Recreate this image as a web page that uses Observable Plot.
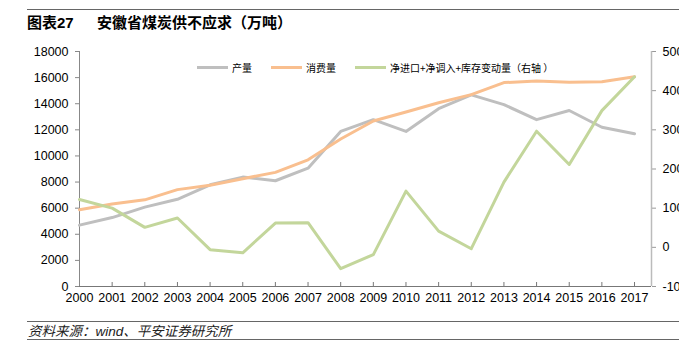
<!DOCTYPE html>
<html>
<head>
<meta charset="utf-8">
<script src="https://cdn.jsdelivr.net/npm/d3@7"></script>
<script src="https://cdn.jsdelivr.net/npm/@observablehq/plot@0.6"></script>
<style>
html, body { margin: 0; padding: 0; background: #fff; overflow: hidden; }
#wrap { position: relative; width: 679px; height: 358px; font-family: "Liberation Sans", Arial, "Noto Sans CJK SC", sans-serif; color: #000; }
.rule { position: absolute; left: 27px; right: 0; height: 0; border-top: 1.5px solid #666; }
#title { position: absolute; left: 27px; top: 15px; font-size: 15px; font-weight: bold; font-family: "Liberation Sans", "Noto Sans CJK SC", sans-serif; line-height: 16px; white-space: nowrap; }
#title .num { display: inline-block; width: 70px; }
#chart { position: absolute; left: 0; top: 0; }
#legend { position: absolute; left: 197px; top: 59px; font-size: 10px; font-family: "Noto Sans CJK SC", sans-serif; line-height: 12px; white-space: nowrap; }
#legend .item { display: inline-flex; align-items: center; margin-right: 19px; }
#legend .sw { display: inline-block; width: 31px; height: 3px; margin-right: 4px; }
#source { position: absolute; left: 28px; top: 324px; font-size: 13.5px; font-style: italic; line-height: 15px; color: #222; white-space: nowrap; font-family: "Liberation Sans", "Noto Sans CJK SC", sans-serif; }
</style>
</head>
<body>
<div id="wrap">
  <div class="rule" style="top:9px"></div>
  <div id="title"><span class="num">图表27</span>安徽省煤炭供不应求（万吨）</div>
  <div id="chart"></div>
  <div id="legend"></div>
  <div class="rule" style="top:321px"></div>
  <div id="source">资料来源：wind、平安证券研究所</div>
  <div class="rule" style="top:339px"></div>
</div>
<script>
const years = [2000, 2001, 2002, 2003, 2004, 2005, 2006, 2007, 2008, 2009, 2010, 2011, 2012, 2013, 2014, 2015, 2016, 2017];
const production = [4700, 5280, 6080, 6680, 7790, 8380, 8100, 9060, 11880, 12780, 11880, 13620, 14680, 13930, 12780, 13480, 12200, 11700];
const consumption = [5880, 6320, 6640, 7420, 7760, 8260, 8740, 9700, 11300, 12680, 13370, 14070, 14700, 15620, 15740, 15640, 15680, 16060];
const netInflow = [1220, 1000, 510, 750, -60, -140, 620, 630, -545, -185, 1435, 415, -35, 1665, 2965, 2115, 3490, 4355];
const leftTicks = [0, 2000, 4000, 6000, 8000, 10000, 12000, 14000, 16000, 18000];
const rightTicks = [-1000, 0, 1000, 2000, 3000, 4000, 5000];
const seriesNames = ["产量", "消费量", "净进口+净调入+库存变动量（右轴 ）"];
const seriesColors = ["#BFBFBF", "#F9BF8F", "#C3D69B"];

// map right axis [-1000, 5000] onto left axis [0, 18000]
const toLeft = v => (v + 1000) * 3;
const fromLeft = v => v / 3 - 1000;

const data = years.map((y, i) => ({
  year: y,
  production: production[i],
  consumption: consumption[i],
  net: toLeft(netInflow[i])
}));

const xEnd = 2017.52;

const chart = Plot.plot({
  width: 679,
  height: 316,
  marginLeft: 79,
  marginRight: 28,
  marginTop: 51,
  marginBottom: 30,
  style: { fontFamily: "Liberation Sans, Arial, sans-serif", fontSize: "12.5px", background: "transparent", overflow: "visible" },
  x: { domain: [2000, xEnd], label: null },
  y: { domain: [0, 18000], label: null },
  marks: [
    // left axis
    Plot.axisY({ anchor: "left", ticks: leftTicks, tickFormat: d => String(d), tickSize: 4, tickPadding: 7, stroke: "#888", fill: "#000", label: null }),
    // right axis
    Plot.axisY({ anchor: "right", ticks: rightTicks.map(toLeft), tickFormat: d => String(Math.round(fromLeft(d))), tickSize: 4, tickPadding: 7, stroke: "#999", fill: "#000", label: null }),
    // x tick marks (inside)
    Plot.axisX({ anchor: "bottom", ticks: years.slice(1), tickSize: 4, dy: -4, fill: "none", stroke: "#777", label: null }),
    // x labels
    Plot.axisX({ anchor: "bottom", ticks: years, tickFormat: d => String(d), tickSize: 0, tickPadding: 7, stroke: "none", fill: "#000", label: null }),
    Plot.ruleX([2000], { stroke: "#888" }),
    Plot.ruleX([xEnd], { stroke: "#BBB", strokeWidth: 1.5 }),
    Plot.ruleY([0], { stroke: "#777" }),
    Plot.line(data, { x: "year", y: "production", stroke: seriesColors[0], strokeWidth: 3 }),
    Plot.line(data, { x: "year", y: "consumption", stroke: seriesColors[1], strokeWidth: 3 }),
    Plot.line(data, { x: "year", y: "net", stroke: seriesColors[2], strokeWidth: 3 })
  ]
});
document.getElementById("chart").appendChild(chart);

const legend = document.getElementById("legend");
seriesNames.forEach((name, i) => {
  const item = document.createElement("span");
  item.className = "item";
  const sw = document.createElement("span");
  sw.className = "sw";
  sw.style.background = seriesColors[i];
  item.appendChild(sw);
  item.appendChild(document.createTextNode(name));
  legend.appendChild(item);
});
</script>
</body>
</html>
